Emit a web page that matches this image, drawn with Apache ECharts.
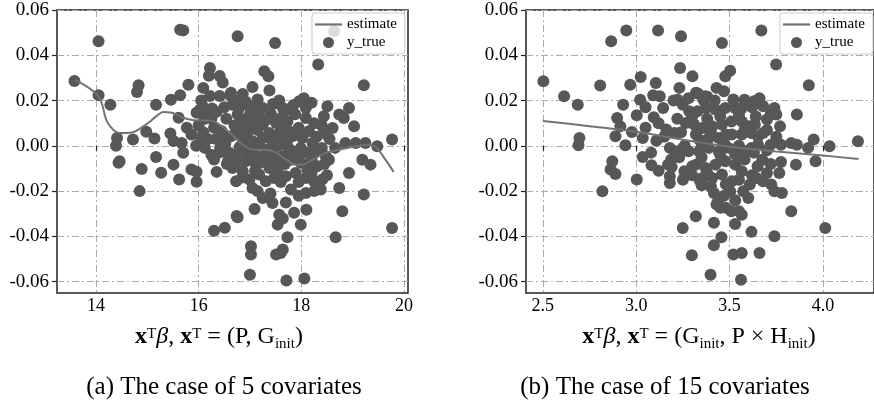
<!DOCTYPE html>
<html>
<head>
<meta charset="utf-8">
<script src="https://cdn.jsdelivr.net/npm/echarts@6/dist/echarts.min.js"></script>
<style>
  html, body { margin: 0; padding: 0; background: #fff; }
  #chart { width: 874px; height: 405px; }
</style>
</head>
<body>
<div id="chart"></div>
<script>
// tick labels
const yTicks = [-0.06, -0.04, -0.02, 0, 0.02, 0.04, 0.06]
const xTicksA = [14, 16, 18, 20]
const xTicksB = [2.5, 3.0, 3.5, 4.0]

// (a) 5 covariates: observed points [x, y]
const yTrueA = [
  [13.58, 0.0286], [14.05, 0.0462], [15.64, 0.0513], [15.70, 0.0510], [14.05, 0.0224], [14.28, 0.0182],
  [14.41, 0.0035], [14.39, 0.0000], [14.44, -0.0075], [14.46, -0.0068], [14.83, 0.0268], [14.80, 0.0238],
  [14.72, 0.0028], [14.89, -0.0102], [14.85, -0.0200], [14.98, 0.0062], [15.14, 0.0032], [15.17, -0.0049],
  [15.17, 0.0182], [15.27, -0.0119], [15.46, 0.0204], [15.45, 0.0055], [15.51, 0.0021], [15.67, 0.0013],
  [15.70, -0.0031], [15.51, -0.0083], [15.62, -0.0149], [15.64, 0.0224], [15.80, 0.0270], [15.61, 0.0124],
  [15.77, 0.0080], [15.86, -0.0105], [15.96, -0.0114], [15.96, -0.0159], [15.86, 0.0050], [15.96, 0.0146],
  [16.09, 0.0256], [16.12, -0.0009], [16.09, 0.0060], [16.22, 0.0344], [16.20, 0.0310], [16.22, 0.0220],
  [16.26, 0.0165], [16.12, 0.0120], [16.41, 0.0308], [16.47, 0.0280], [16.61, 0.0224], [16.41, 0.0220],
  [16.54, 0.0120], [16.45, 0.0065], [16.55, 0.0040], [16.52, 0.0010], [16.42, -0.0010], [16.35, -0.0115],
  [16.55, -0.0080], [16.58, -0.0060], [16.51, -0.0362], [16.30, -0.0375], [16.74, -0.0310],
  [16.02, 0.0158], [16.08, 0.0175], [16.30, 0.0080], [16.25, -0.0040], [16.30, -0.0060], [16.05, 0.0030], [16.34, 0.0030],
  [16.63, 0.0234], [16.86, 0.0229], [17.05, 0.0260], [17.28, 0.0329], [17.36, 0.0307], [17.38, 0.0244],
  [17.57, 0.0200], [17.64, 0.0167], [17.73, 0.0160], [17.25, 0.0167], [17.12, 0.0167], [16.99, 0.0175],
  [16.79, 0.0167], [16.66, 0.0182], [16.76, 0.0138], [16.96, 0.0123], [17.18, 0.0131], [17.41, 0.0141],
  [17.51, 0.0101], [17.73, 0.0109], [17.96, 0.0197], [18.09, 0.0167], [18.09, 0.0123], [18.15, 0.0064],
  [17.93, 0.0064], [17.76, 0.0064], [17.60, 0.0072], [17.38, 0.0057], [17.25, 0.0094], [17.05, 0.0094],
  [16.89, 0.0086], [16.73, 0.0057], [16.63, 0.0042], [16.86, 0.0028], [17.05, 0.0020], [17.25, 0.0035],
  [17.44, 0.0020], [17.64, 0.0035], [17.83, 0.0042], [18.02, 0.0035], [18.22, 0.0013], [18.44, 0.0057],
  [18.61, 0.0079], [18.51, 0.0175], [18.44, 0.0131], [18.74, 0.0138], [18.83, 0.0123], [18.93, 0.0167],
  [19.03, 0.0086], [16.60, -0.0031], [16.73, -0.0039], [16.89, -0.0024], [17.09, -0.0039], [17.25, -0.0046],
  [17.44, -0.0031], [17.64, -0.0046], [17.83, -0.0024], [17.99, -0.0009], [18.28, -0.0024], [18.48, -0.0046],
  [18.66, -0.0009], [18.86, 0.0013], [19.06, 0.0013], [19.25, 0.0013], [19.48, -0.0002], [19.77, 0.0028],
  [18.54, -0.0061], [19.19, -0.0061], [19.35, -0.0083], [18.93, -0.0120], [16.66, -0.0098], [16.86, -0.0112],
  [16.99, -0.0149], [17.18, -0.0127], [17.38, -0.0098], [17.54, -0.0112], [17.70, -0.0134], [17.89, -0.0120],
  [18.09, -0.0142], [18.25, -0.0156], [18.41, -0.0149], [17.99, -0.0075], [18.12, -0.0105], [17.05, -0.0186],
  [17.25, -0.0230], [17.44, -0.0252], [17.80, -0.0193], [18.09, -0.0208], [18.74, -0.0186], [19.22, -0.0215],
  [17.09, -0.0279], [16.76, -0.0315], [17.57, -0.0304], [17.64, -0.0321], [17.86, -0.0296], [18.10, -0.0282],
  [17.54, -0.0348], [17.99, -0.0348], [17.73, -0.0404], [18.67, -0.0404], [18.80, -0.0289], [19.77, -0.0363],
  [17.02, -0.0443], [17.02, -0.0480], [17.51, -0.0480], [17.60, -0.0473], [17.64, -0.0458], [17.00, -0.0569],
  [17.71, -0.0595], [18.06, -0.0586], [17.38, -0.0068], [17.57, -0.0083], [17.80, -0.0061], [16.92, -0.0068],
  [17.12, -0.0083], [18.31, -0.0090], [17.31, -0.0156], [17.47, -0.0142], [18.38, -0.0193], [16.73, -0.0156],
  [16.76, 0.0484], [17.49, 0.0454], [18.33, 0.0359], [19.22, 0.0268], [18.64, 0.0506],
  [16.70, 0.0200], [16.92, 0.0195], [17.15, 0.0205], [17.45, 0.0185], [17.85, 0.0180], [18.20, 0.0190],
  [18.05, 0.0210], [16.82, 0.0105], [17.00, 0.0140], [17.32, 0.0115], [17.62, 0.0125], [17.88, 0.0140],
  [18.25, 0.0100], [18.40, 0.0090], [16.70, 0.0090], [16.95, 0.0060], [17.15, 0.0070], [17.50, 0.0040],
  [17.72, 0.0020], [17.95, 0.0080], [18.30, 0.0040], [18.55, 0.0030], [16.80, -0.0005], [17.00, -0.0010],
  [17.18, 0.0005], [17.35, -0.0015], [17.55, 0.0000], [17.75, -0.0010], [18.10, -0.0030], [18.40, -0.0010],
  [16.75, -0.0070], [16.98, -0.0060], [17.20, -0.0075], [17.46, -0.0065], [17.68, -0.0080], [17.92, -0.0050],
  [18.20, -0.0060], [18.45, -0.0080], [16.85, -0.0140], [17.10, -0.0110], [17.60, -0.0160], [17.95, -0.0160],
  [18.20, -0.0120], [18.50, -0.0130], [17.15, -0.0200], [17.40, -0.0210], [17.95, -0.0220], [18.25, -0.0200],
  [17.70, -0.0250], [16.05, 0.0200], [16.15, 0.0150], [16.25, 0.0120], [16.18, 0.0030], [16.35, 0.0150],
  [16.50, 0.0170], [16.00, 0.0090], [15.95, 0.0000], [16.40, -0.0030]
]
const estimateA = [
  [13.60, 0.0290], [14.05, 0.0218], [14.21, 0.0109], [14.35, 0.0068], [14.47, 0.0057], [14.67, 0.0058],
  [14.93, 0.0087], [15.18, 0.0131], [15.31, 0.0150], [15.48, 0.0146], [15.70, 0.0124], [15.96, 0.0112],
  [16.22, 0.0112], [16.41, 0.0094], [16.61, 0.0057], [16.86, 0.0005], [17.05, -0.0017], [17.31, -0.0017],
  [17.51, -0.0031], [17.70, -0.0060], [17.89, -0.0083], [18.02, -0.0083], [18.22, -0.0061], [18.48, -0.0031],
  [18.74, -0.0017], [19.06, -0.0002], [19.30, 0.0005], [19.45, -0.0005], [19.64, -0.0061], [19.80, -0.0115]
]

// (b) 15 covariates
const yTrueB = [
  [2.503, 0.0285], [2.614, 0.0219], [2.687, 0.0182], [2.696, 0.0035], [2.691, 0.0003], [2.807, 0.0266],
  [2.819, -0.0201], [2.866, 0.0462], [2.947, 0.0509], [3.117, 0.0509], [3.240, 0.0484], [3.235, 0.0344],
  [3.301, 0.0307], [2.968, 0.0270], [3.024, 0.0304], [3.105, 0.0278], [2.930, 0.0182], [3.021, 0.0204],
  [2.898, 0.0123], [2.915, 0.0086], [2.889, 0.0042], [2.942, 0.0003], [2.977, 0.0061], [3.003, 0.0135],
  [3.035, 0.0035], [2.872, -0.0068], [2.863, -0.0105], [2.889, -0.0124], [3.003, -0.0149], [3.035, -0.0049],
  [3.082, -0.0086], [3.108, 0.0023], [3.094, 0.0126], [3.091, 0.0223], [3.126, 0.0219], [3.144, 0.0167],
  [3.161, 0.0072], [3.180, -0.0009], [3.210, -0.0024], [3.250, -0.0009], [3.280, -0.0024], [3.231, 0.0256],
  [3.222, 0.0204], [3.249, 0.0182], [3.284, 0.0153], [3.266, 0.0101], [3.205, 0.0057], [3.170, -0.0083],
  [3.187, -0.0061], [3.180, -0.0134], [3.180, -0.0164], [3.258, -0.0112], [3.300, -0.0090], [3.319, -0.0311],
  [3.249, -0.0363], [3.298, -0.0483], [3.340, -0.0152], [3.350, -0.0174], [3.330, 0.0231], [3.360, 0.0202],
  [3.380, 0.0217], [3.190, -0.0093],
  [3.459, 0.0454], [3.670, 0.0509], [3.503, 0.0332], [3.477, 0.0307], [3.749, 0.0359], [3.924, 0.0268],
  [3.320, 0.0234], [3.370, 0.0219], [3.430, 0.0256], [3.470, 0.0241], [3.580, 0.0204], [3.630, 0.0197],
  [3.680, 0.0175], [3.740, 0.0167], [3.860, 0.0138], [3.750, 0.0138], [3.700, 0.0116], [3.770, 0.0086],
  [3.635, 0.0094], [3.600, 0.0086], [3.565, 0.0108], [3.510, 0.0108], [3.720, 0.0005], [3.775, 0.0005],
  [3.830, 0.0013], [3.860, 0.0005], [3.950, 0.0028], [3.920, -0.0009], [4.035, -0.0002], [4.187, 0.0020],
  [3.675, -0.0061], [3.775, -0.0071], [3.855, -0.0083], [3.960, -0.0068], [3.766, -0.0120], [3.740, -0.0201],
  [3.780, -0.0208], [3.830, -0.0289], [4.012, -0.0363], [3.740, -0.0399], [3.660, -0.0473], [3.617, -0.0380],
  [3.530, -0.0345], [3.550, -0.0289], [3.565, -0.0304], [3.510, -0.0289], [3.480, -0.0274], [3.520, -0.0480],
  [3.565, -0.0473], [3.398, -0.0569], [3.561, -0.0591], [3.456, -0.0404], [3.416, -0.0439], [3.416, -0.0340],
  [3.430, -0.0259], [3.450, -0.0274], [3.416, -0.0208], [3.440, -0.0237],
  [3.328, 0.0153], [3.372, 0.0167], [3.424, 0.0160], [3.477, 0.0167], [3.530, 0.0167], [3.565, 0.0167],
  [3.512, 0.0050], [3.565, 0.0050], [3.617, 0.0057], [3.652, 0.0042], [3.679, 0.0057], [3.310, 0.0094],
  [3.354, 0.0079], [3.407, 0.0086], [3.459, 0.0094], [3.389, 0.0035], [3.337, 0.0028], [3.442, 0.0035],
  [3.337, -0.0024], [3.389, -0.0009], [3.442, -0.0024], [3.495, -0.0009], [3.530, -0.0039], [3.582, -0.0024],
  [3.617, -0.0009], [3.652, 0.0005], [3.320, -0.0083], [3.372, -0.0098], [3.424, -0.0083], [3.477, -0.0068],
  [3.530, -0.0083], [3.565, -0.0112], [3.407, -0.0142], [3.459, -0.0127], [3.512, -0.0156], [3.354, -0.0142],
  [3.503, -0.0201], [3.573, -0.0201], [3.608, -0.0171], [3.644, -0.0142], [3.679, -0.0156], [3.723, -0.0171],
  [3.20, 0.0200], [3.28, 0.0210], [3.42, 0.0200], [3.52, 0.0205], [3.62, 0.0170], [3.66, 0.0210],
  [3.22, 0.0120], [3.30, 0.0130], [3.38, 0.0120], [3.45, 0.0130], [3.55, 0.0140], [3.64, 0.0130],
  [3.72, 0.0140], [3.24, 0.0060], [3.32, 0.0050], [3.40, 0.0060], [3.48, 0.0050], [3.58, 0.0070],
  [3.70, 0.0070], [3.75, 0.0040], [3.26, 0.0000], [3.35, 0.0010], [3.47, 0.0010], [3.55, 0.0000],
  [3.63, -0.0030], [3.70, -0.0020], [3.23, -0.0050], [3.35, -0.0050], [3.45, -0.0040], [3.58, -0.0060],
  [3.65, -0.0090], [3.72, -0.0080], [3.25, -0.0150], [3.30, -0.0130], [3.38, -0.0120], [3.48, -0.0170],
  [3.55, -0.0150], [3.62, -0.0130], [3.70, -0.0120], [3.40, -0.0180], [3.47, -0.0220], [3.53, -0.0240],
  [3.60, -0.0230], [3.05, 0.0170], [3.12, 0.0100], [3.15, 0.0040], [3.08, -0.0030], [3.12, -0.0110],
  [3.05, 0.0080]
]
const estimateB = [
  [2.50, 0.0110], [2.75, 0.0087], [3.00, 0.0062], [3.25, 0.0027], [3.50, -0.0004], [3.75, -0.0025],
  [4.00, -0.0043], [4.19, -0.0058]
]

const SERIF = 'Liberation Serif'
const gridLine = { show: true, lineStyle: { color: '#ababab', width: 1, type: [7, 3, 2, 3] } }
const pointColor = '#575757'
const lineColor = '#727272'

function xAxisFor (gridIndex, min, max, ticks, digits) {
  return {
    type: 'value',
    gridIndex: gridIndex,
    min: min,
    max: max,
    axisLine: { show: false },
    axisTick: { show: true, inside: false, length: 5, customValues: ticks, lineStyle: { color: '#222', width: 1.2 } },
    axisLabel: {
      customValues: ticks,
      margin: 4,
      color: '#000',
      fontFamily: SERIF,
      fontSize: 18,
      formatter: v => v.toFixed(digits)
    },
    splitLine: gridLine
  }
}

function yAxisFor (gridIndex) {
  return {
    type: 'value',
    gridIndex: gridIndex,
    min: -0.065,
    max: 0.06,
    axisLine: { show: false },
    axisTick: { show: true, inside: false, length: 5, customValues: yTicks, lineStyle: { color: '#222', width: 1.2 } },
    axisLabel: {
      customValues: yTicks,
      margin: 8,
      color: '#000',
      fontFamily: SERIF,
      fontSize: 19,
      formatter: v => v.toFixed(2)
    },
    splitLine: gridLine
  }
}

function legendAt (left) {
  return {
    left: left,
    top: 13,
    orient: 'vertical',
    itemWidth: 27,
    itemHeight: 11,
    itemGap: 3,
    padding: [4, 8, 4, 3],
    symbolKeepAspect: true,
    backgroundColor: 'rgba(255,255,255,0.8)',
    borderColor: '#cccccc',
    borderWidth: 1,
    borderRadius: 3,
    textStyle: { fontFamily: SERIF, fontSize: 15, color: '#000' },
    data: [
      { name: 'estimate', icon: 'path://M0,0L27,0L27,2.2L0,2.2Z', itemStyle: { color: lineColor } },
      { name: 'y_true', icon: 'circle' }
    ]
  }
}

const base = { fontFamily: SERIF, fontSize: 24, lineHeight: 26, verticalAlign: 'bottom', padding: [0, 0, 4, 0], fill: '#000' }
const rich = {
  b: Object.assign({}, base, { fontWeight: 'bold' }),
  n: Object.assign({}, base),
  i: Object.assign({}, base, { fontStyle: 'italic' }),
  sup: { fontFamily: SERIF, fontSize: 15, lineHeight: 15, verticalAlign: 'top', fill: '#000' },
  sub: { fontFamily: SERIF, fontSize: 15, lineHeight: 15, verticalAlign: 'bottom', padding: [0, 0, 1, 0], fill: '#000' }
}

function textAt (x, y, text, extra) {
  return {
    type: 'text',
    x: x,
    y: y,
    style: Object.assign({ text: text, textAlign: 'center', textVerticalAlign: 'middle', fill: '#000' }, extra)
  }
}

const option = {
  animation: false,
  backgroundColor: '#fff',
  grid: [
    { left: 57, top: 10, width: 351, height: 283, show: true, borderColor: '#222', borderWidth: 1.5 },
    { left: 526, top: 10, width: 354, height: 283, show: true, borderColor: '#222', borderWidth: 1.5 }
  ],
  xAxis: [
    xAxisFor(0, 13.24, 20.08, xTicksA, 0),
    xAxisFor(1, 2.41, 4.273, xTicksB, 1)
  ],
  yAxis: [yAxisFor(0), yAxisFor(1)],
  legend: [legendAt(312), legendAt(780)],
  series: [
    {
      name: 'y_true', type: 'scatter', xAxisIndex: 0, yAxisIndex: 0,
      symbolSize: 12, itemStyle: { color: pointColor, opacity: 1 }, data: yTrueA
    },
    {
      name: 'estimate', type: 'line', xAxisIndex: 0, yAxisIndex: 0, z: 3,
      symbol: 'none', smooth: 0.35, lineStyle: { color: lineColor, width: 2 }, itemStyle: { color: lineColor },
      data: estimateA
    },
    {
      name: 'y_true', type: 'scatter', xAxisIndex: 1, yAxisIndex: 1,
      symbolSize: 12, itemStyle: { color: pointColor, opacity: 1 }, data: yTrueB
    },
    {
      name: 'estimate', type: 'line', xAxisIndex: 1, yAxisIndex: 1, z: 3,
      symbol: 'none', smooth: 0.35, lineStyle: { color: lineColor, width: 2 }, itemStyle: { color: lineColor },
      data: estimateB
    }
  ],
  graphic: [
    textAt(219, 340, '{b|x}{sup|T}{i|β}{n|, }{b|x}{sup|T}{n| = (P, G}{sub|init}{n|)}', { rich: rich }),
    textAt(699, 340, '{b|x}{sup|T}{i|β}{n|, }{b|x}{sup|T}{n| = (G}{sub|init}{n|, P × H}{sub|init}{n|)}', { rich: rich }),
    textAt(224, 387, '(a) The case of 5 covariates', { font: '25px "Liberation Serif"' }),
    textAt(665, 387, '(b) The case of 15 covariates', { font: '25px "Liberation Serif"' })
  ]
}

const chart = echarts.init(document.getElementById('chart'), null, { renderer: 'canvas' })
chart.setOption(option)
</script>
</body>
</html>
